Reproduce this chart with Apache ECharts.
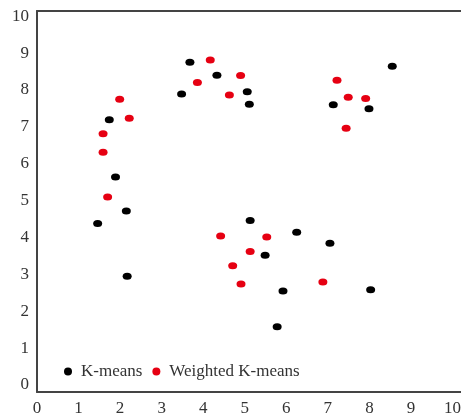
<!DOCTYPE html>
<html>
<head>
<meta charset="utf-8">
<script src="https://cdn.jsdelivr.net/npm/echarts@6/dist/echarts.min.js"></script>
<style>
  html, body { margin: 0; padding: 0; background: #fff; }
  #chart { width: 461px; height: 414px; }
</style>
</head>
<body>
<div id="chart"></div>
<script>
// K-means 聚类点
const kmeansPoints = [
  [3.68, 8.75], [4.33, 8.40], [3.48, 7.89], [5.06, 7.95], [5.11, 7.61],
  [8.55, 8.64], [7.13, 7.60], [7.99, 7.49],
  [1.74, 7.19], [1.89, 5.64], [2.15, 4.72], [1.46, 4.38], [2.17, 2.95],
  [5.13, 4.46], [6.25, 4.14], [7.05, 3.84], [5.49, 3.52],
  [5.92, 2.55], [8.03, 2.58], [5.78, 1.58]
]

// 加权 K-means 聚类点
const weightedPoints = [
  [4.17, 8.81], [4.90, 8.39], [3.86, 8.20], [4.63, 7.86],
  [7.22, 8.26], [7.49, 7.80], [7.91, 7.77], [7.44, 6.96],
  [1.99, 7.75], [2.22, 7.23], [1.59, 6.81], [1.59, 6.31], [1.70, 5.10],
  [4.42, 4.04], [5.53, 4.01], [5.13, 3.62], [4.71, 3.23], [4.91, 2.74], [6.88, 2.79]
]

const xTicks = [0, 1, 2, 3, 4, 5, 6, 7, 8, 9, 10]
const yTicks = [0, 1, 2, 3, 4, 5, 6, 7, 8, 9, 10]

const chart = echarts.init(document.getElementById('chart'))

const labelFont = {
  fontFamily: 'Liberation Serif',
  fontSize: 17,
  color: '#333',
}

const frameLine = { show: true, onZero: false, lineStyle: { color: '#444', width: 2 } }

chart.setOption({
  backgroundColor: '#fff',
  animation: false,
  grid: {
    left: 37,
    top: 11,
    width: 460,
    bottom: 22,
    outerBoundsMode: 'none',
    containLabel: false,
  },
  legend: {
    left: 59,
    top: 358,
    itemWidth: 8,
    itemHeight: 8,
    itemGap: 10,
    icon: 'circle',
    textStyle: {
      fontFamily: 'Liberation Serif',
      fontSize: 17,
      color: '#333',
      padding: [0, 0, 0, 4],
    },
    data: ['K-means', 'Weighted K-means'],
  },
  xAxis: [
    {
      type: 'value',
      min: 0,
      max: 460 / 41.55,
      axisLine: frameLine,
      axisTick: { show: false },
      splitLine: { show: false },
      axisLabel: {
        ...labelFont,
        margin: 8,
        customValues: xTicks,
      },
    },
    {
      // 顶部边框
      type: 'value',
      position: 'top',
      min: 0,
      max: 460 / 41.55,
      axisLine: frameLine,
      axisTick: { show: false },
      splitLine: { show: false },
      axisLabel: { show: false },
    },
  ],
  yAxis: {
    type: 'value',
    min: -0.19,
    max: 10.14,
    axisLine: frameLine,
    axisTick: { show: false },
    splitLine: { show: false },
    axisLabel: {
      ...labelFont,
      margin: 8,
      customValues: yTicks,
    },
  },
  series: [
    {
      name: 'K-means',
      type: 'scatter',
      data: kmeansPoints,
      symbol: 'circle',
      symbolSize: [9, 7],
      itemStyle: { color: '#000', opacity: 1 },
    },
    {
      name: 'Weighted K-means',
      type: 'scatter',
      data: weightedPoints,
      symbol: 'circle',
      symbolSize: [9, 7],
      itemStyle: { color: '#e60012', opacity: 1 },
    },
  ],
})
</script>
</body>
</html>
